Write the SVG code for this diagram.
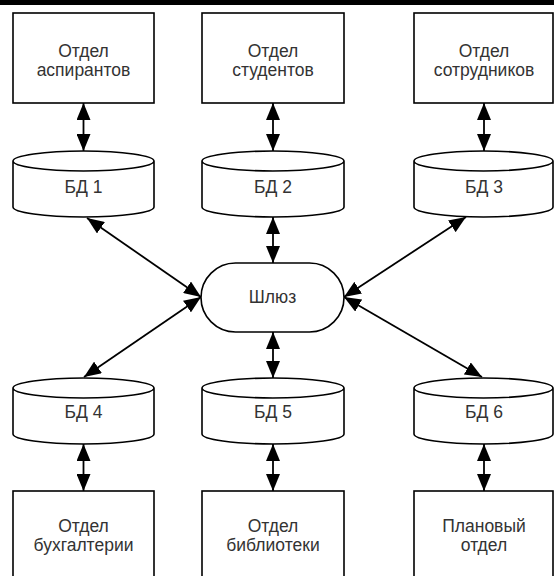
<svg xmlns="http://www.w3.org/2000/svg" width="554" height="576" viewBox="0 0 554 576">
<style>
.box{fill:#fff;stroke:#000;stroke-width:1.6}
.t{font-family:"Liberation Sans",Arial,sans-serif;font-size:17.5px;fill:#333;text-anchor:middle}
.c{stroke:#000;stroke-width:1.8;fill:none;marker-start:url(#ah);marker-end:url(#ah)}
</style>
<defs>
<marker id="ah" markerUnits="userSpaceOnUse" markerWidth="17" markerHeight="14" refX="17" refY="7" orient="auto-start-reverse">
<path d="M0,0 L17,7 L0,14 z" fill="#000"/>
</marker>
</defs>
<rect x="0" y="0" width="554" height="576" fill="#fff"/>
<rect x="0" y="0" width="554" height="5" fill="#000"/>
<g id="connectors">
<line class="c" x1="83.5" y1="103" x2="83.5" y2="151"/>
<line class="c" x1="273" y1="103" x2="273" y2="151"/>
<line class="c" x1="484" y1="103" x2="484" y2="151"/>
<line class="c" x1="273" y1="217" x2="273" y2="263"/>
<line class="c" x1="273" y1="332" x2="273" y2="378"/>
<line class="c" x1="87" y1="218" x2="201" y2="297"/>
<line class="c" x1="466" y1="217" x2="344" y2="297"/>
<line class="c" x1="84" y1="377" x2="201" y2="297"/>
<line class="c" x1="482" y1="377" x2="344" y2="297"/>
<line class="c" x1="83.5" y1="444" x2="83.5" y2="491"/>
<line class="c" x1="273" y1="444" x2="273" y2="491"/>
<line class="c" x1="484" y1="444" x2="484" y2="491"/>
</g>
<g id="otdel-aspirantov">
<rect class="box" x="13" y="13" width="141" height="90"/>
<text class="t" x="83.5" y="57">Отдел</text>
<text class="t" x="83.5" y="76">аспирантов</text>
</g>
<g id="otdel-studentov">
<rect class="box" x="202" y="13" width="142" height="90"/>
<text class="t" x="273" y="57">Отдел</text>
<text class="t" x="273" y="76">студентов</text>
</g>
<g id="otdel-sotrudnikov">
<rect class="box" x="414" y="13" width="139" height="90"/>
<text class="t" x="484" y="57">Отдел</text>
<text class="t" x="484" y="76">сотрудников</text>
</g>
<g id="bd1">
<path class="box" d="M13,161 L13,207 A70.5,10 0 0 0 154,207 L154,161 A70.5,10 0 0 0 13,161 A70.5,10 0 0 0 154,161"/>
<text class="t" x="83.5" y="193">БД 1</text>
</g>
<g id="bd2">
<path class="box" d="M202,161 L202,207 A71,10 0 0 0 344,207 L344,161 A71,10 0 0 0 202,161 A71,10 0 0 0 344,161"/>
<text class="t" x="273" y="193">БД 2</text>
</g>
<g id="bd3">
<path class="box" d="M414,161 L414,207 A69.5,10 0 0 0 553,207 L553,161 A69.5,10 0 0 0 414,161 A69.5,10 0 0 0 553,161"/>
<text class="t" x="484" y="193">БД 3</text>
</g>
<g id="shlyuz">
<rect class="box" x="201" y="263" width="143" height="69" rx="34.5" ry="34.5"/>
<text class="t" x="272.5" y="303">Шлюз</text>
</g>
<g id="bd4">
<path class="box" d="M13,388 L13,434 A70.5,10 0 0 0 154,434 L154,388 A70.5,10 0 0 0 13,388 A70.5,10 0 0 0 154,388"/>
<text class="t" x="83.5" y="418">БД 4</text>
</g>
<g id="bd5">
<path class="box" d="M202,388 L202,434 A71,10 0 0 0 344,434 L344,388 A71,10 0 0 0 202,388 A71,10 0 0 0 344,388"/>
<text class="t" x="273" y="418">БД 5</text>
</g>
<g id="bd6">
<path class="box" d="M414,388 L414,434 A69.5,10 0 0 0 553,434 L553,388 A69.5,10 0 0 0 414,388 A69.5,10 0 0 0 553,388"/>
<text class="t" x="484" y="418">БД 6</text>
</g>
<g id="otdel-buhgalterii">
<rect class="box" x="13" y="491" width="141" height="90"/>
<text class="t" x="83.5" y="532">Отдел</text>
<text class="t" x="83.5" y="551">бухгалтерии</text>
</g>
<g id="otdel-biblioteki">
<rect class="box" x="202" y="491" width="142" height="90"/>
<text class="t" x="273" y="532">Отдел</text>
<text class="t" x="273" y="551">библиотеки</text>
</g>
<g id="planovyj-otdel">
<rect class="box" x="414" y="491" width="139" height="90"/>
<text class="t" x="484" y="532">Плановый</text>
<text class="t" x="484" y="551">отдел</text>
</g>
</svg>
